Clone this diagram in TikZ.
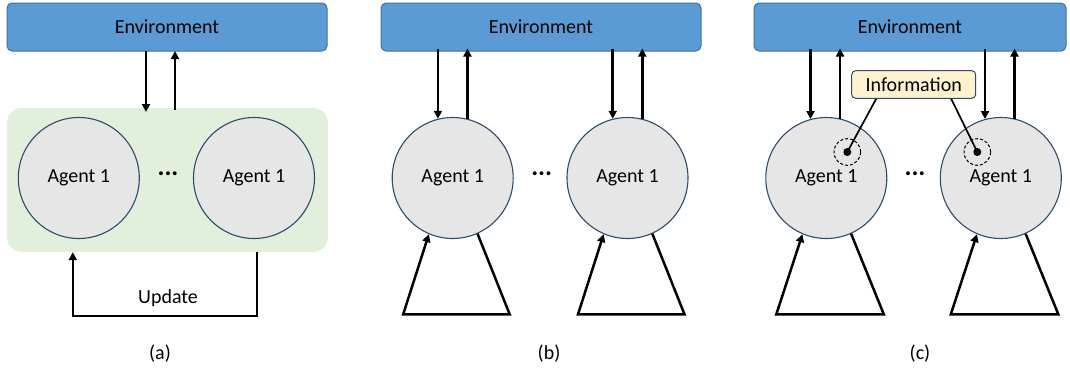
\documentclass[tikz,border=0pt]{standalone}
\usepackage{fontspec}
\setmainfont{Carlito}
\usetikzlibrary{arrows.meta,calc}
\definecolor{envfill}{HTML}{5B9BD5}
\definecolor{envdraw}{HTML}{41719C}
\definecolor{grn}{HTML}{E2EFDA}
\definecolor{agfill}{HTML}{E7E6E6}
\definecolor{agdraw}{HTML}{2F4B6B}
\definecolor{infofill}{HTML}{FFF2CC}
\begin{document}
\begin{tikzpicture}[x=1pt,y=-1pt,
  font=\fontsize{20}{24}\selectfont,
  envbox/.style={draw=envdraw,line width=1pt,fill=envfill,rounded corners=5pt,minimum height=48pt,inner sep=0pt},
  agent/.style={circle,draw=agdraw,line width=1.1pt,fill=agfill,minimum size=121pt,inner sep=0pt},
  arr/.style={line width=2.5pt,-{Triangle[length=8pt,width=8pt]}},
  dotsnode/.style={font=\fontsize{26}{30}\selectfont\bfseries,inner sep=0pt},
  infobox/.style={draw=agdraw,line width=1pt,fill=infofill,rounded corners=4pt,minimum width=124pt,minimum height=27.6pt,inner sep=0pt},
  dotpt/.style={circle,fill=black,minimum size=8pt,inner sep=0pt},
  ring/.style={circle,draw=black,dashed,dash pattern=on 3pt off 2pt,line width=1pt,minimum size=26.6pt,inner sep=0pt},
  lbl/.style={inner sep=0pt}
]
\useasboundingbox (0,0) rectangle (1070,370);

% ---------- (a) ----------
\node[envbox,minimum width=320pt] (enva) at (167,27) {Environment};
\node[fill=grn,rounded corners=15pt,minimum width=321pt,minimum height=144pt,inner sep=0pt] (grna) at (167.5,180) {};
\node[agent] (a1) at (78.8,178) {Agent 1};
\node[agent] (a2) at (254,178) {Agent 1};
\node[dotsnode] (da) at (168,174) {...};
\draw[arr] (146,51) coordinate (ea1) -- (146,112) coordinate (ga1);
\draw[arr] (175,110) coordinate (ga2) -- (175,51) coordinate (ea2);
\draw[arr,line join=miter] ([xshift=3pt]grna.south -| a2) -- ++(0,64) -| ([xshift=-6pt]grna.south -| a1);
\node[lbl] (upd) at (168,298) {Update};
\node[lbl] (capa) at (160,354) {(a)};

% ---------- (b) ----------
\node[envbox,minimum width=320pt] (envb) at (541,27) {Environment};
\node[agent] (b1) at (452.7,178) {Agent 1};
\node[agent] (b2) at (627.5,178) {Agent 1};
\node[dotsnode] (db) at (541.7,174) {...};
\foreach \n in {b1,b2}{
  \draw[arr] ([yshift=3pt]\n.104 |- envb.south) -- (\n.104);
  \draw[arr] (\n.76) -- ([yshift=3pt]\n.76 |- envb.south);
  \draw[arr,line join=miter] (\n.294) -- ($(\n)+(57,136.3)$) -- ($(\n)+(-49.5,136.3)$) -- (\n.247);
}
\node[lbl] (capb) at (549,354) {(b)};

% ---------- (c) ----------
\node[envbox,minimum width=312pt] (envc) at (910,27) {Environment};
\node[agent] (c1) at (826.3,178) {Agent 1};
\node[agent] (c2) at (1000.8,178) {Agent 1};
\node[dotsnode] (dc) at (915,174) {...};
\foreach \n in {c1,c2}{
  \draw[arr] ([yshift=3pt]\n.105 |- envc.south) -- (\n.105);
  \draw[arr] (\n.77) -- ([yshift=3pt]\n.77 |- envc.south);
  \draw[arr,line join=miter] (\n.294) -- ($(\n)+(57.5,136.3)$) -- ($(\n)+(-50,136.3)$) -- (\n.247);
}
\node[infobox] (info) at (913.7,84.5) {Information};
\node[ring] (r1) at ($(c1)+(21,-26)$) {};
\node[dotpt] (p1) at (r1) {};
\node[ring] (r2) at ($(c2)+(-23.5,-26)$) {};
\node[dotpt] (p2) at (r2) {};
\draw[line width=1.7pt] ([xshift=25pt]info.south west) -- (p1.center);
\draw[line width=1.7pt] ([xshift=-25pt]info.south east) -- (p2.center);
\node[lbl] (capc) at (920,354) {(c)};
\end{tikzpicture}
\end{document}
